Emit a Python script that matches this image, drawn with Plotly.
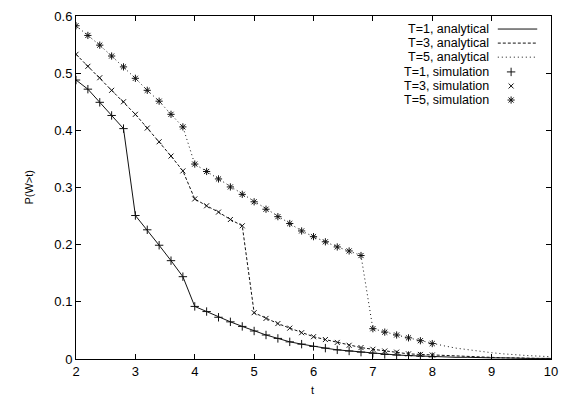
import plotly.graph_objects as go

# ---- data ----
t_sim = [2.0, 2.2, 2.4, 2.6, 2.8, 3.0, 3.2, 3.4, 3.6, 3.8, 4.0, 4.2, 4.4, 4.6, 4.8, 5.0,
         5.2, 5.4, 5.6, 5.8, 6.0, 6.2, 6.4, 6.6, 6.8, 7.0, 7.2, 7.4, 7.6, 7.8, 8.0]
t_ext = [8.2, 8.4, 8.6, 8.8, 9.0, 9.2, 9.4, 9.6, 9.8, 10.0]

sim_T1 = [0.488, 0.472, 0.449, 0.426, 0.403, 0.251, 0.226, 0.199, 0.172, 0.144, 0.092,
          0.083, 0.073, 0.065, 0.057, 0.049, 0.042, 0.036, 0.030, 0.026, 0.022, 0.019,
          0.016, 0.014, 0.012, 0.010, 0.008, 0.007, 0.006, 0.005, 0.004]
sim_T3 = [0.533, 0.512, 0.492, 0.470, 0.450, 0.428, 0.404, 0.380, 0.355, 0.329, 0.280,
          0.268, 0.257, 0.244, 0.233, 0.081, 0.071, 0.062, 0.054, 0.046, 0.039, 0.034,
          0.029, 0.024, 0.020, 0.017, 0.014, 0.012, 0.009, 0.008, 0.007]
sim_T5 = [0.583, 0.566, 0.549, 0.530, 0.511, 0.491, 0.470, 0.451, 0.428, 0.406, 0.341,
          0.328, 0.315, 0.301, 0.288, 0.275, 0.262, 0.249, 0.237, 0.224, 0.214, 0.205,
          0.196, 0.189, 0.181, 0.053, 0.047, 0.042, 0.037, 0.032, 0.027]

ext_T1 = [0.004, 0.003, 0.003, 0.002, 0.002, 0.002, 0.001, 0.001, 0.001, 0.001]
ext_T3 = [0.006, 0.005, 0.004, 0.003, 0.003, 0.002, 0.002, 0.001, 0.001, 0.001]
ext_T5 = [0.023, 0.019, 0.016, 0.013, 0.011, 0.009, 0.007, 0.006, 0.005, 0.004]

t_ana = t_sim + t_ext
ana_T1 = sim_T1 + ext_T1
ana_T3 = sim_T3 + ext_T3
ana_T5 = sim_T5 + ext_T5

labels = ["T=1, analytical", "T=3, analytical", "T=5, analytical",
          "T=1, simulation", "T=3, simulation", "T=5, simulation"]
x_title = "t"
y_title = "P(W>t)"

FONT = "Liberation Sans, Arial, sans-serif"
INK = "#111111"

fig = go.Figure()
line_styles = [("solid", ana_T1), ("3px,2px", ana_T3), ("1px,3px", ana_T5)]
for dash, ys in line_styles:
    fig.add_trace(go.Scatter(x=t_ana, y=ys, mode="lines",
                             line=dict(color=INK, width=1, dash=dash),
                             showlegend=False, hoverinfo="skip"))

markers = [("cross-thin-open", 6, sim_T1), ("x-thin-open", 5, sim_T3), ("asterisk-open", 6, sim_T5)]
for sym, sz, ys in markers:
    fig.add_trace(go.Scatter(x=t_sim, y=ys, mode="markers",
                             marker=dict(symbol=sym, size=sz, color=INK,
                                         line=dict(color=INK, width=1)),
                             showlegend=False))

# ---- gnuplot-style legend (text right, sample on the right) ----
leg_y = [0.962, 0.921, 0.880, 0.837, 0.796, 0.755]
for lab, yy in zip(labels, leg_y):
    fig.add_annotation(x=0.871, y=yy, xref="paper", yref="paper", text=lab,
                       showarrow=False, xanchor="right", yanchor="middle",
                       borderpad=0,
                       font=dict(family=FONT, size=12.5, color="#000"))
for (dash, _), yy in zip(line_styles, leg_y[:3]):
    fig.add_shape(type="line", xref="paper", yref="paper", x0=0.888, x1=0.971,
                  y0=yy, y1=yy, line=dict(color=INK, width=1, dash=dash))
for (sym, sz, _), yy in zip(markers, leg_y[3:]):
    fig.add_trace(go.Scatter(x=[0.916], y=[yy], xaxis="x2", yaxis="y2", mode="markers",
                             marker=dict(symbol=sym, size=sz, color=INK,
                                         line=dict(color=INK, width=1)),
                             showlegend=False, hoverinfo="skip"))

# ---- axis titles ----
fig.add_annotation(x=0.497, y=-0.09, xref="paper", yref="paper", text=x_title,
                   showarrow=False, xanchor="center", yanchor="middle",
                   font=dict(family=FONT, size=11, color="#000"))
fig.add_annotation(x=-0.101, y=0.5, xref="paper", yref="paper", text=y_title,
                   showarrow=False, xanchor="center", yanchor="middle", textangle=-90,
                   font=dict(family=FONT, size=11, color="#000"))

axis_common = dict(showline=True, linecolor="#000", linewidth=1, mirror="ticks",
                   ticks="inside", ticklen=5, tickcolor="#000", showgrid=False,
                   zeroline=False, automargin=False,
                   tickfont=dict(family=FONT, size=13, color="#000"))

fig.update_layout(
    width=564, height=398,
    margin=dict(l=76, r=13, t=16, b=39, autoexpand=False),
    paper_bgcolor="white", plot_bgcolor="white",
    xaxis=dict(range=[2, 10], dtick=1, tick0=2, **axis_common),
    yaxis=dict(range=[0, 0.6], dtick=0.1, tick0=0, **axis_common),
    xaxis2=dict(overlaying="x", range=[0, 1], visible=False),
    yaxis2=dict(overlaying="y", range=[0, 1], visible=False),
    showlegend=False,
)

fig.write_html("out.html", config={"displayModeBar": False},
               post_script="document.body.style.margin='0px';")
